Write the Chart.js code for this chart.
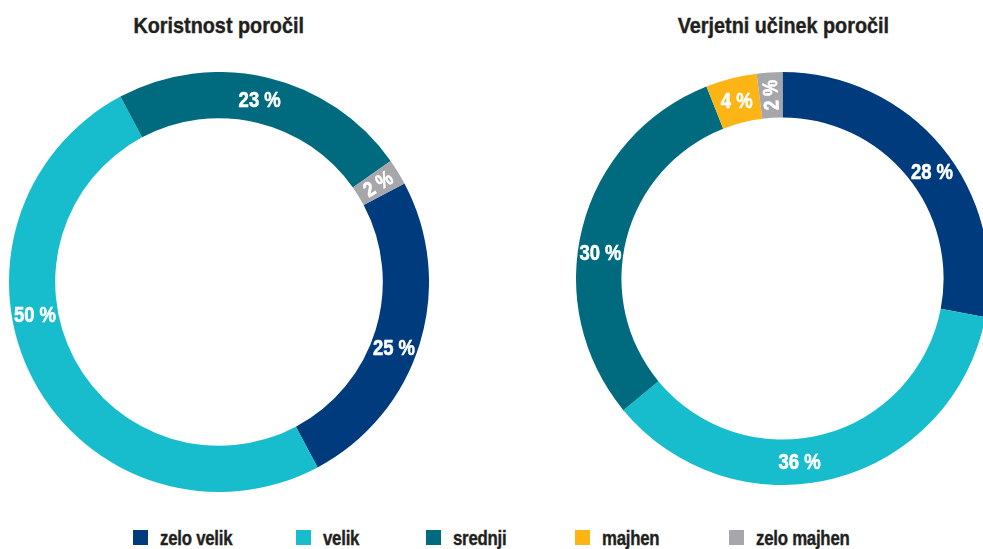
<!DOCTYPE html>
<html>
<head>
<meta charset="utf-8">
<script src="https://cdn.jsdelivr.net/npm/chart.js@4/dist/chart.umd.min.js"></script>
<style>
  html, body { margin: 0; padding: 0; background: #fff; width: 983px; height: 549px; overflow: hidden; position: relative; }
  body { font-family: "Liberation Sans", Arial, sans-serif; color: #231F20; }
  .title { position: absolute; top: 11px; font-weight: bold; font-size: 22px; line-height: 30px; text-align: center; }
  .title span { display: inline-block; transform: scaleX(0.9); transform-origin: center; -webkit-text-stroke: 0.4px #231F20; }
  canvas { position: absolute; }
  .leg { position: absolute; top: 527px; height: 22px; font-weight: bold; font-size: 21px; line-height: 22px; white-space: nowrap; }
  .leg .sw { position: absolute; left: 0; top: 3px; width: 15px; height: 15px; }
  .leg .tx { position: absolute; left: 27px; top: 0; display: inline-block; transform: scaleX(0.8); transform-origin: left center; letter-spacing: -0.3px; -webkit-text-stroke: 0.4px #231F20; }
</style>
</head>
<body>
<div id="t1" class="title" style="left:0;width:438px;"><span></span></div>
<div id="t2" class="title" style="left:583px;width:400px;"><span></span></div>
<canvas id="c1" width="420" height="420" style="left:9px;top:72px;"></canvas>
<canvas id="c2" width="413" height="413" style="left:576px;top:72px;"></canvas>
<div id="legend"></div>
<script>
// ---- data ----
const categories = ['zelo velik', 'velik', 'srednji', 'majhen', 'zelo majhen'];
const usefulnessValues = [25, 50, 23, 0, 2];   // Koristnost poročil
const impactValues = [28, 36, 30, 4, 2];        // Verjetni učinek poročil
const chartTitles = ['Koristnost poročil', 'Verjetni učinek poročil'];

// ---- styling ----
const colors = ['#003B7E', '#17BDCD', '#006A7E', '#FDB515', '#A7A7AB'];
const leftLabelFrac = [0.54, 0.60, 0.49, 0.5, 0.5];
const rightLabelFrac = [0.54, 0.57, 0.44, 0.5, 0.5];
const legendX = [133, 296, 426, 575, 729];
const FONT = '"Liberation Sans", Arial, sans-serif';

document.querySelector('#t1 span').textContent = chartTitles[0];
document.querySelector('#t2 span').textContent = chartTitles[1];

const legend = document.getElementById('legend');
categories.forEach((c, i) => {
  const d = document.createElement('div');
  d.className = 'leg';
  d.style.left = legendX[i] + 'px';
  d.innerHTML = '<span class="sw" style="background:' + colors[i] + '"></span><span class="tx"></span>';
  d.querySelector('.tx').textContent = c;
  legend.appendChild(d);
});

const labelPlugin = {
  id: 'ringLabels',
  afterDatasetsDraw(chart, args, opts) {
    const ctx = chart.ctx;
    const meta = chart.getDatasetMeta(0);
    const data = chart.data.datasets[0].data;
    const fracs = opts.fracs || [];
    meta.data.forEach((arc, i) => {
      const v = data[i];
      if (!v) return;
      const p = arc.getProps(['x', 'y', 'startAngle', 'endAngle', 'innerRadius', 'outerRadius'], true);
      const f = fracs[i] != null ? fracs[i] : 0.5;
      const a = p.startAngle + (p.endAngle - p.startAngle) * f;
      const r = (p.innerRadius + p.outerRadius) / 2;
      const x = p.x + Math.cos(a) * r;
      const y = p.y + Math.sin(a) * r;
      const txt = v + ' %';
      ctx.save();
      ctx.translate(x, y);
      let size = 22;
      if (v <= 2) { ctx.rotate(a); size = 21; }
      ctx.scale(0.84, 1);
      ctx.font = 'bold ' + size + 'px ' + FONT;
      ctx.fillStyle = '#ffffff';
      ctx.strokeStyle = '#ffffff';
      ctx.lineWidth = 0.6;
      ctx.textAlign = 'center';
      ctx.textBaseline = 'middle';
      ctx.fillText(txt, 0, 1);
      ctx.strokeText(txt, 0, 1);
      ctx.restore();
    });
  }
};

function makeChart(id, values, rotation, fracs) {
  return new Chart(document.getElementById(id), {
    type: 'doughnut',
    data: {
      labels: categories,
      datasets: [{ data: values, backgroundColor: colors, borderWidth: 0 }]
    },
    options: {
      responsive: false,
      animation: false,
      devicePixelRatio: 1,
      rotation: rotation,
      cutout: '78%',
      layout: { padding: 0 },
      plugins: {
        legend: { display: false },
        tooltip: { enabled: false },
        title: { display: false },
        ringLabels: { fracs: fracs }
      }
    },
    plugins: [labelPlugin]
  });
}

makeChart('c1', usefulnessValues, 62, leftLabelFrac);
makeChart('c2', impactValues, 0, rightLabelFrac);
</script>
</body>
</html>
